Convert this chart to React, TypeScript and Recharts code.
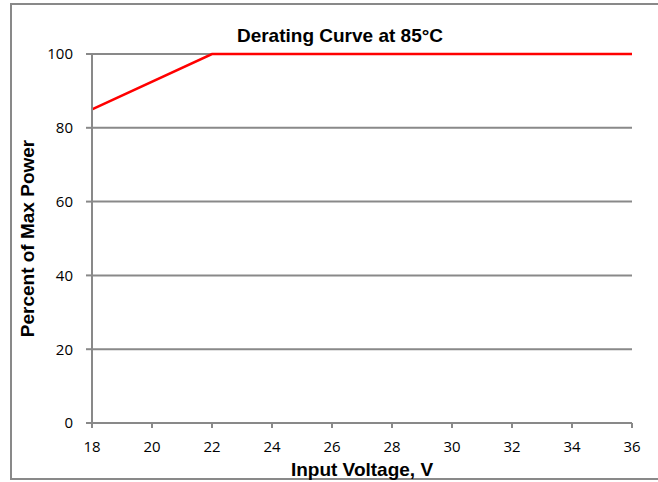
import { LineChart, Line, XAxis, YAxis, CartesianGrid, Label } from 'recharts'

// input voltage (V) vs percent of max power
const voltages = [18, 22, 36]
const percents = [85, 100, 100]
const xTicks = [18, 20, 22, 24, 26, 28, 30, 32, 34, 36]
const yTicks = [0, 20, 40, 60, 80, 100]

const data = voltages.map((v, i) => ({ v, p: percents[i] }))

const GRAY = '#898989'
const TICK_FAMILY = '"Open Sans", sans-serif'
const tickFont = { fontFamily: TICK_FAMILY, fontSize: 15, fill: '#000', style: { fontSize: 15, fontFamily: TICK_FAMILY } }
const boldFont = { fontFamily: '"Liberation Sans", Arial, sans-serif', fontSize: 19, fontWeight: 700, fill: '#000' }

export default function App() {
    return (
        <div style={{ position: 'fixed', left: 0, top: 0, width: 658, height: 482, background: '#fff', overflow: 'hidden' }}>
            <div style={{ position: 'absolute', left: 10, top: 3, width: 700, height: 477, border: `2px solid ${GRAY}`, borderRight: 'none', boxSizing: 'border-box' }} />
            <div style={{ position: 'absolute', left: 0, top: 0 }}>
                <LineChart width={658} height={482} data={data} margin={{ top: 54, right: 26, bottom: 0, left: 0 }}>
                    <text x={340} y={42} textAnchor="middle" style={boldFont}>Derating Curve at 85°C</text>
                    <CartesianGrid vertical={false} stroke={GRAY} strokeWidth={2} />
                    <XAxis
                        dataKey="v"
                        type="number"
                        domain={[18, 36]}
                        ticks={xTicks}
                        height={59}
                        stroke={GRAY}
                        strokeWidth={2}
                        fontSize={15}
                        tickSize={5}
                        tickMargin={13}
                        tick={tickFont}
                    >
                        <Label value="Input Voltage, V" position="insideBottom" offset={6} style={boldFont} />
                    </XAxis>
                    <YAxis
                        type="number"
                        domain={[0, 100]}
                        ticks={yTicks}
                        width={92}
                        stroke={GRAY}
                        strokeWidth={2}
                        fontSize={15}
                        tickSize={6}
                        tickMargin={13}
                        tick={tickFont}
                    >
                        <Label value="Percent of Max Power" angle={-90} position="insideLeft" offset={27} style={{ ...boldFont, textAnchor: 'middle' }} />
                    </YAxis>
                    <Line dataKey="p" stroke="#ff0000" strokeWidth={2.5} dot={false} isAnimationActive={false} />
                </LineChart>
            </div>
        </div>
    )
}
